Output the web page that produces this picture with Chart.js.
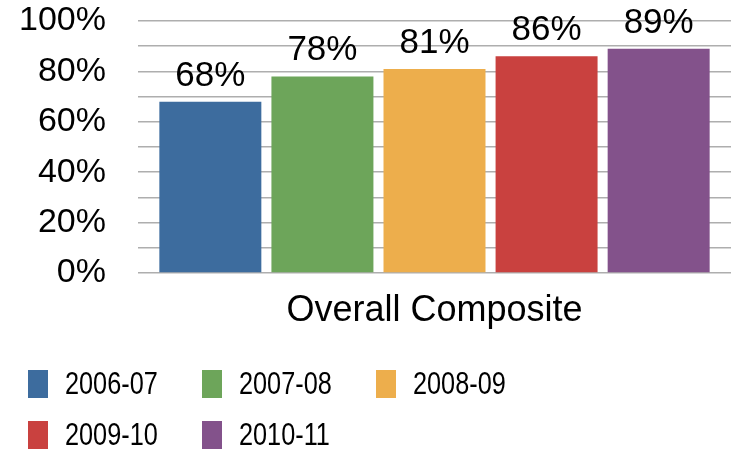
<!DOCTYPE html>
<html>
<head>
<meta charset="utf-8">
<script src="https://cdn.jsdelivr.net/npm/chart.js@4"></script>
<style>
    html, body { margin: 0; padding: 0; background: #ffffff; }
    #wrap { width: 731px; height: 451px; }
</style>
</head>
<body>
<div id="wrap"><canvas id="chart" width="731" height="451"></canvas></div>
<script>
// Données
const categories = ['Overall Composite'];
const seasons = ['2006-07', '2007-08', '2008-09', '2009-10', '2010-11'];
const scores = [68, 78, 81, 86, 89];
const colors = ['#3D6C9E', '#6DA55A', '#EDAE4C', '#C9413F', '#83528B'];
const tickLabels = ['0%', '20%', '40%', '60%', '80%', '100%'];

const FONT = '"Liberation Sans", Arial, Helvetica, sans-serif';

// Étiquettes de valeur au-dessus des barres
const valueLabels = {
    id: 'valueLabels',
    afterDatasetsDraw(chart) {
        const ctx = chart.ctx;
        ctx.save();
        ctx.font = '35px ' + FONT;
        ctx.fillStyle = '#000000';
        ctx.textAlign = 'center';
        ctx.textBaseline = 'alphabetic';
        chart.data.datasets.forEach((ds, i) => {
            const meta = chart.getDatasetMeta(i);
            meta.data.forEach((bar, j) => {
                ctx.fillText(ds.data[j] + '%', bar.x, bar.y - 16);
            });
        });
        ctx.restore();
    }
};

// Légende en grille (3 colonnes), texte un peu condensé
const gridLegend = {
    id: 'gridLegend',
    afterDraw(chart) {
        const ctx = chart.ctx;
        const left = 28, top = 370, colStep = 174, rowStep = 51;
        ctx.save();
        ctx.font = '32px ' + FONT;
        ctx.textAlign = 'left';
        ctx.textBaseline = 'middle';
        chart.data.datasets.forEach((ds, i) => {
            const col = i % 3;
            const row = Math.floor(i / 3);
            const x = left + col * colStep;
            const y = top + row * rowStep;
            ctx.fillStyle = ds.backgroundColor;
            ctx.fillRect(x, y, 20, 28);
            ctx.fillStyle = '#000000';
            ctx.save();
            ctx.translate(x + 37, y + 15);
            ctx.scale(0.79, 1);
            ctx.fillText(ds.label, 0, 0);
            ctx.restore();
        });
        ctx.restore();
    }
};

const datasets = seasons.map((s, i) => ({
    label: s,
    data: [scores[i]],
    backgroundColor: colors[i],
    borderWidth: 0,
    categoryPercentage: 0.945,
    barPercentage: 0.91
}));

new Chart(document.getElementById('chart'), {
    type: 'bar',
    data: { labels: categories, datasets: datasets },
    plugins: [valueLabels, gridLegend],
    options: {
        responsive: false,
        animation: false,
        layout: { padding: { top: 21, right: 0, left: 0, bottom: 108 } },
        plugins: {
            legend: { display: false },
            tooltip: { enabled: false }
        },
        scales: {
            x: {
                grid: { display: false, drawTicks: false },
                border: { display: false },
                ticks: { color: '#000000', font: { family: FONT, size: 36 }, padding: 16 },
                afterFit: (scale) => { scale.height = 70; }
            },
            y: {
                min: 0,
                max: 100,
                ticks: {
                    stepSize: 10,
                    autoSkip: false,
                    color: '#000000',
                    font: { family: FONT, size: 34 },
                    padding: 32,
                    callback: (v) => (v % 20 === 0 ? tickLabels[v / 20] : '')
                },
                grid: { color: '#AEAEAE', lineWidth: 1.5, drawTicks: false },
                border: { display: false },
                afterFit: (scale) => {
                    scale.width = 138;
                    scale.paddingTop = 0;
                    scale.paddingBottom = 0;
                }
            }
        }
    }
});
</script>
</body>
</html>
